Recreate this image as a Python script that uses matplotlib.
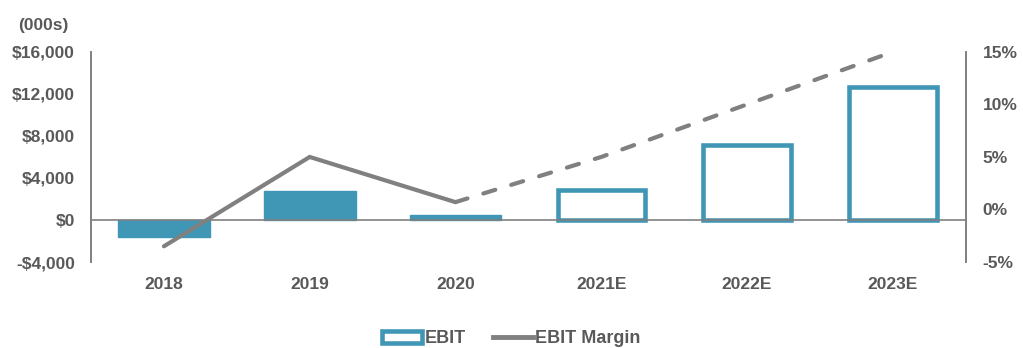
import numpy as np
import matplotlib.pyplot as plt
from matplotlib.patches import Patch
from matplotlib.lines import Line2D

plt.rcParams['font.family'] = ['Liberation Sans', 'DejaVu Sans']

# podaci ocitani sa slike
godine = ["2018", "2019", "2020", "2021E", "2022E", "2023E"]
ebit = [-1600, 2800, 450, 2850, 7100, 12650]
marza = [-3.5, 5.0, 0.7, 5.0, 10.0, 15.0]
stvarno = [True, True, True, False, False, False]

plava = "#4097b5"
siva = "#808080"
tekst = "#595959"

fig = plt.figure(figsize=(10.23, 3.48), dpi=100)
ax = fig.add_axes([0.089, 0.247, 0.855, 0.604])
ax2 = ax.twinx()

x = np.arange(len(godine))
for i in range(len(x)):
    if stvarno[i]:
        ax.bar(x[i], ebit[i], width=0.63, color=plava, edgecolor=plava, linewidth=1, zorder=2)
    else:
        ax.bar(x[i], ebit[i], width=0.6, facecolor="white", edgecolor=plava, linewidth=3.3, zorder=2)

ax.axhline(0, color=siva, lw=1.2, zorder=3)

# marza: puna linija za stvarne, isprekidana za procjene
ax2.plot(x[:3], marza[:3], color=siva, lw=3, solid_capstyle="round", solid_joinstyle="miter")
ax2.plot(x[2:], marza[2:], color=siva, lw=3, ls=(0, (3, 4)), dash_capstyle="round")

ax.set_xlim(-0.5, len(x) - 0.5)
ax.set_ylim(-4000, 16000)
ax.set_yticks(np.arange(-4000, 16001, 4000))
ax.set_yticklabels(["-$4,000", "$0", "$4,000", "$8,000", "$12,000", "$16,000"])
ax2.set_ylim(-5, 15)
ax2.set_yticks(np.arange(-5, 16, 5))
ax2.set_yticklabels([f"{v}%" for v in range(-5, 16, 5)])
ax.set_xticks(x)
ax.set_xticklabels(godine)

for a in (ax, ax2):
    a.spines["top"].set_visible(False)
    a.spines["bottom"].set_visible(False)
    a.spines["left"].set_color(siva)
    a.spines["right"].set_color(siva)
    a.spines["left"].set_linewidth(1.2)
    a.spines["right"].set_linewidth(1.2)
    a.tick_params(length=0, labelsize=12.5, labelcolor=tekst)
    for t in a.get_xticklabels() + a.get_yticklabels():
        t.set_fontweight("bold")
ax.tick_params(axis="y", pad=11.5)
ax2.tick_params(axis="y", pad=12)
ax.tick_params(axis="x", pad=11)

fig.text(0.018, 0.915, "(000s)", fontsize=12.5, fontweight="bold", color=tekst)

ruke = [Patch(facecolor="white", edgecolor=plava, linewidth=3.3, label="EBIT"),
        Line2D([0], [0], color=siva, lw=3.5, label="EBIT Margin")]
fig.legend(handles=ruke, loc="lower center", bbox_to_anchor=(0.5, -0.045), ncol=2, frameon=False,
           prop={"weight": "bold", "size": 13}, labelcolor=tekst, handlelength=2.2,
           handletextpad=0.15, columnspacing=1.5)

plt.savefig("out.png", dpi=100)
